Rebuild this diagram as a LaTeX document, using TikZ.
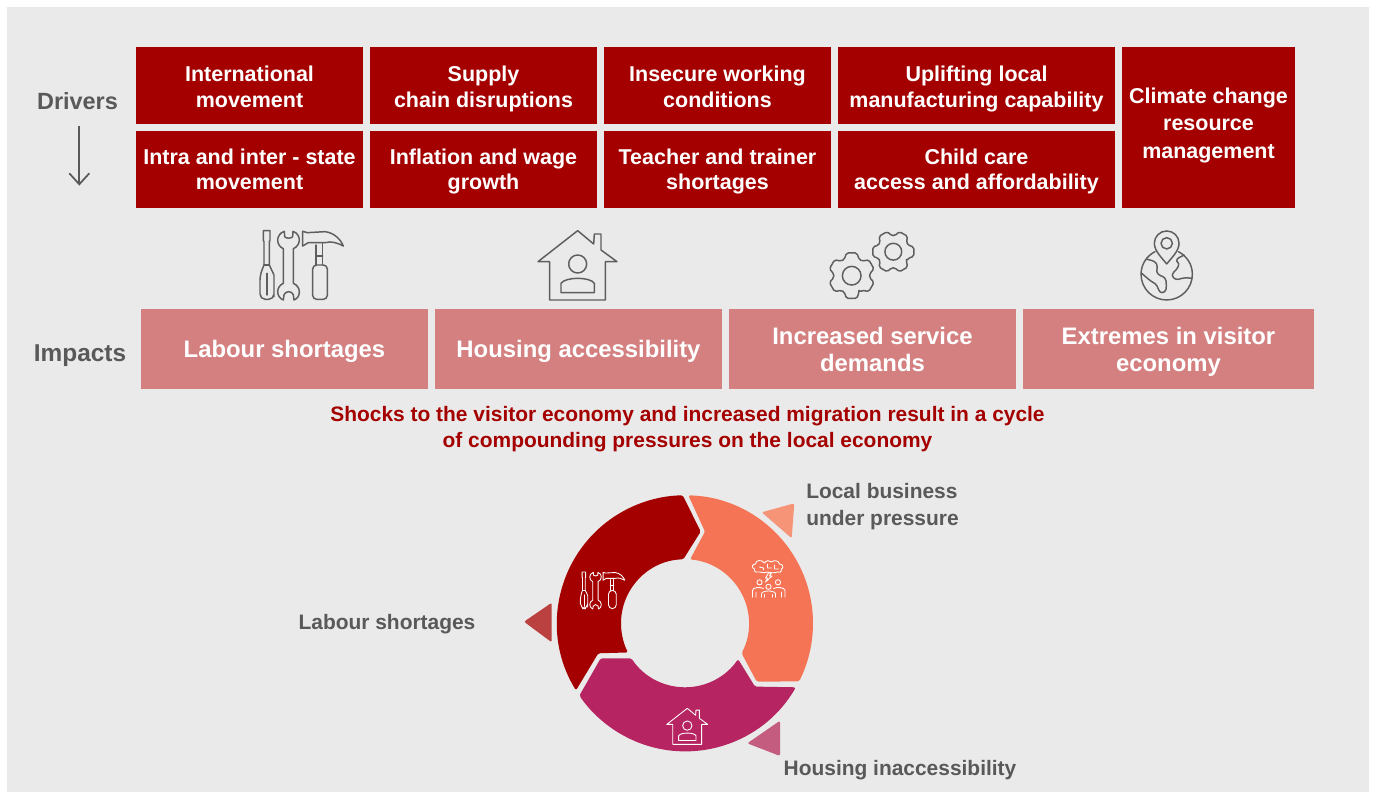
\documentclass[tikz,border=0pt]{standalone}
\usepackage{fontspec}
\setmainfont{Liberation Sans}
\definecolor{bggrey}{HTML}{EAEAEA}
\definecolor{darkred}{HTML}{A50000}
\definecolor{rosebox}{HTML}{D48080}
\definecolor{txtgrey}{HTML}{595959}
\definecolor{ringorange}{HTML}{F47455}
\definecolor{ringmag}{HTML}{B62562}
\definecolor{triorange}{HTML}{F69478}
\definecolor{trired}{HTML}{BB4040}
\definecolor{tripink}{HTML}{C45C80}
\definecolor{icongrey}{HTML}{5E5E5E}
\newcommand{\topstrut}[1]{\rule{0pt}{\dimexpr 12pt+#1*3/2\relax}}
\newcommand{\botstrut}{\rule[-12pt]{0pt}{12pt}}
\tikzset{
 x=0.75pt,y=-0.75pt,
 % #1: distance, in reference pixels, from the box centre down to the baseline of the text's last line
 drvbox/.style={fill=darkred,text=white,inner sep=0,font=\fontsize{16.1}{19.5}\selectfont\bfseries,align=center,
   execute at begin node={\topstrut{#1pt}},execute at end node={\botstrut}},
 drvwide/.style={drvbox=#1,minimum width=277*0.75pt,minimum height=77*0.75pt},
 drvnorm/.style={drvbox=#1,minimum width=227*0.75pt,minimum height=77*0.75pt},
 impbox/.style={fill=rosebox,text=white,inner sep=0,font=\fontsize{17.9}{20.3}\selectfont\bfseries,align=center,
   minimum height=80*0.75pt,
   execute at begin node={\topstrut{#1pt}},execute at end node={\botstrut}},
 sidelabel/.style={text=txtgrey,inner sep=0,font=\fontsize{#1}{20}\selectfont\bfseries},
 ringlabel/.style={text=txtgrey,inner sep=0,font=\fontsize{15.7}{20.3}\selectfont\bfseries,align=left},
 headline/.style={text=darkred,inner sep=0,font=\fontsize{15.7}{19.5}\selectfont\bfseries,align=center},
 tri/.style={rounded corners=1.5pt},
 seg/.style={rounded corners=1.2pt},
 icondark/.style={draw=icongrey,line width=1.1pt,line join=round,line cap=round},
 iconwhite/.style={draw=white,line width=0.65pt,line join=round,line cap=round},
 toolsicon/.pic={
  \path[pic actions] (100,32)--(120,32)--(120,62)--(118,64)--(118,135)--(132,165)--(132,230)[rounded corners=4pt]--(132,238)--(90,238)--(90,165)[sharp corners]--(102,135)--(102,64)--(100,62)--cycle;
  \path[pic actions] (111,160)--(111,225);
  \path[pic actions] (102,135)--(118,135);
  \path[pic actions] (163,34)--(164,50)..controls (168,56) and (184,56) .. (188,50)--(189,34)..controls (202,38) and (208,50) .. (208,60)..controls (208,72) and (200,82) .. (190,86)--(190,190)..controls (200,194) and (208,204) .. (208,215)..controls (208,228) and (202,236) .. (192,240)--(190,224)..controls (184,212) and (168,212) .. (162,224)--(160,240)..controls (150,236) and (143,226) .. (143,215)..controls (143,204) and (150,194) .. (160,190)--(160,86)..controls (150,82) and (143,72) .. (143,60)..controls (143,50) and (150,38) .. (163,34)--cycle;
  \path[pic actions] (218,34)--(232,38)--(285,35)..controls (312,38) and (332,58) .. (340,78)..controls (325,70) and (305,62) .. (285,68)--(235,68)--(218,78)--cycle;
  \path[pic actions] (258,75)--(258,135)(278,68)--(278,135)(258,108)--(278,108);
  \path[pic actions,rounded corners=3pt] (248,135)--(292,135)--(292,238)--(248,238)--cycle;
 },
 houseicon/.pic={
  \path[pic actions] (122,32)--(170,72)--(172,42)--(192,42)--(192,90)--(240,125)--(205,125)--(205,240)--(38,240)--(38,125)--(3,125)--cycle;
  \path[pic actions] (122,132) circle[radius=27];
  \path[pic actions] (72,218)--(72,190)..controls (85,170) and (160,170) .. (172,190)--(172,218)--cycle;
 },
 gearicon/.pic={
  \path[pic actions,rounded corners=1.3pt] (#1-24:54)
   foreach \g in {0,60,...,300}{ --(#1+\g-24:54)--(#1+\g-13:70)--(#1+\g+13:70)--(#1+\g+24:54) } --cycle;
  \path[pic actions] (0,0) circle[radius=28];
 },
 globeicon/.pic={
  \path[pic actions] (35,-68) .. controls (60,-55) and (77,-30) .. (77,0) arc[start angle=0,end angle=180,radius=77] .. controls (-77,-30) and (-60,-55) .. (-35,-68);
  \path[pic actions] (0,-31)..controls (-15,-50) and (-37,-70) .. (-37,-93) arc[start angle=180,end angle=360,radius=37] ..controls (37,-70) and (15,-50) .. (0,-31)--cycle;
  \path[pic actions] (0,-93) circle[radius=17];
  \path[pic actions] (-60,-45)..controls (-45,-42) and (-35,-40) .. (-30,-30)..controls (-25,-15) and (-35,-10) .. (-25,0)..controls (-15,8) and (-5,5) .. (-2,20)..controls (0,40) and (0,55) .. (-15,55)..controls (-25,55) and (-25,35) .. (-35,28)..controls (-50,20) and (-60,10) .. (-75,-3);
  \path[pic actions] (52,-58)..controls (40,-50) and (30,-50) .. (30,-40)..controls (42,-30) and (35,-20) .. (20,-5)..controls (10,5) and (25,18) .. (35,15)..controls (50,10) and (60,10) .. (75,12);
 },
 brainicon/.pic={
  \path[pic actions] (-4,-14)..controls (-7,-18) and (-13,-17) .. (-13,-13)..controls (-17,-13) and (-17,-9) .. (-14,-8)..controls (-15,-5) and (-11,-4) .. (-9,-5)..controls (-6,-4) and (-3,-4) .. (-1,-5)..controls (2,-4) and (7,-4) .. (9,-5)..controls (12,-4) and (14,-6) .. (13,-8)..controls (15,-9) and (15,-13) .. (11,-13)..controls (10,-17) and (5,-17) .. (3,-15)..controls (1,-17) and (-2,-17) .. (-4,-14)--cycle;
  \path[pic actions] (-9,-10)--(-5,-9)--(-5,-7)(-1,-13)--(-1,-9)--(3,-9)(6,-12)--(6,-8)--(10,-8);
  \path[pic actions] (0,-4)--(3,-4)--(1,-1)--(3.5,-1)--(-3,5)--(-1,1)--(-3,1)--cycle;
  \path[pic actions] (-9,5.3) circle[radius=2.6];
  \path[pic actions] (9.5,5.3) circle[radius=2.6];
  \path[pic actions] (0,9.8) circle[radius=2.6];
  \path[pic actions] (-16,20.3)--(-16,13.5)..controls (-16,10.5) and (-9,9.5) .. (-5,11.5)(-12.5,20.3)--(-12.5,15);
  \path[pic actions] (16.5,20.3)--(16.5,13.5)..controls (16.5,10.5) and (9,9.5) .. (5,11.5)(13,20.3)--(13,15);
  \path[pic actions] (-7,20.3)--(-7,17)..controls (-7,13) and (7,13) .. (7,17)--(7,20.3)(-4,20.3)--(-4,17.5)(4,20.3)--(4,17.5);
 },
}
\begin{document}
\begin{tikzpicture}
\useasboundingbox (0,0) rectangle (1375,792);
\fill[white] (0,0) rectangle (1375,792);
\fill[bggrey] (7,7) rectangle (1369,792);

% left labels
\node[sidelabel=17.6] (drv) at (77.5,101.5) {Drivers};
\node[sidelabel=18.3] (imp) at (80,356) {Impacts};
\coordinate (arrS) at (79.3,126.5);
\coordinate (arrE) at (79.3,184.3);
\coordinate (arrL) at (69.3,173.3);
\coordinate (arrR) at (89.3,173.3);
\draw[txtgrey,line width=1.3pt] (arrS)--(arrE);
\draw[txtgrey,line width=1.3pt] (arrL)--(arrE)--(arrR);

% drivers
\node[drvnorm=22] (d1) at (249.5,85.5) {International\\movement};
\node[drvnorm=22] (d2) at (483.5,85.5) {Supply\\chain disruptions};
\node[drvnorm=22] (d3) at (717.5,85.5) {Insecure working\\conditions};
\node[drvwide=22] (d4) at (976.5,85.5) {Uplifting local\\manufacturing capability};
\node[drvnorm=20.5] (d5) at (249.5,169.5) {Intra and inter - state\\movement};
\node[drvnorm=20.5] (d6) at (483.5,169.5) {Inflation and wage\\growth};
\node[drvnorm=20.5] (d7) at (717.5,169.5) {Teacher and trainer\\shortages};
\node[drvwide=20.5] (d8) at (976.5,169.5) {Child care\\access and affordability};
\node[drvbox=30.5,minimum width=173*0.75pt,minimum height=161*0.75pt,font=\fontsize{16.1}{20.3}\selectfont\bfseries] (d9) at (1208.5,127.5) {Climate change\\resource\\management};

% impacts
\node[impbox=8,minimum width=287*0.75pt] (i1) at (284.5,349) {Labour shortages};
\node[impbox=8,minimum width=287*0.75pt] (i2) at (578.5,349) {Housing accessibility};
\node[impbox=22.5,minimum width=287*0.75pt] (i3) at (872.5,349) {Increased service\\demands};
\node[impbox=22.5,minimum width=291*0.75pt] (i4) at (1168.5,349) {Extremes in visitor\\economy};

% icons row
\pic[icondark,shift={(230,220)},scale=1/3] {toolsicon};
\pic[icondark,shift={(537,220)},scale=1/3] {houseicon};
\pic[icondark,shift={(851.7,275.7)},scale=1/3] {gearicon=90};
\pic[icondark,shift={(893.3,251.7)},scale=0.3] {gearicon=60};
\pic[icondark,shift={(1166.7,274.3)},scale=1/3] {globeicon};

% headline
\node[headline] (hl) at (687.5,429) {Shocks to the visitor economy and increased migration result in a cycle\\of compounding pressures on the local economy};

% ring
\begin{scope}[shift={(685,623.3)},yscale=-1]
 \fill[darkred,seg] (211.6:128) arc[start angle=211.6,end angle=91,radius=128] -- (15.7,91.7) -- (91.5:64) arc[start angle=91.5,end angle=207.1,radius=64] -- (-86.7,-30) -- cycle;
 \fill[ringorange,seg] (88.5:128) arc[start angle=88.5,end angle=-27,radius=128] -- (71.7,-58.3) -- (-27.9:64) arc[start angle=-27.9,end angle=85.5,radius=64] -- (20,91.7) -- cycle;
 \fill[ringmag,seg] (-30:128) arc[start angle=-30,end angle=-145.6,radius=128] -- (-84.3,-35) -- (-146.7:64) arc[start angle=-146.7,end angle=-34,radius=64] -- (70,-63.3) -- cycle;
\end{scope}
\pic[iconwhite,shift={(564.3,566.3)},scale=0.178] {toolsicon};
\pic[iconwhite,shift={(666.2,702.8)},scale=0.173] {houseicon};
\pic[iconwhite,shift={(768.5,577)}] {brainicon};

% triangles
\fill[trired,tri] (524,621.7)--(551.7,602.7)--(551.7,642.3)--cycle;
\fill[triorange,tri] (761.7,512.3)--(794.3,503.3)--(791.7,538.3)--cycle;
\fill[tripink,tri] (747.3,743.3)--(780,720.7)--(780,756)--cycle;

% ring labels
\node[ringlabel,anchor=west] (l1) at (806,506.5) {Local business\\under pressure};
\node[ringlabel] (l2) at (387,624) {Labour shortages};
\node[ringlabel] (l3) at (900,770) {Housing inaccessibility};
\end{tikzpicture}
\end{document}
